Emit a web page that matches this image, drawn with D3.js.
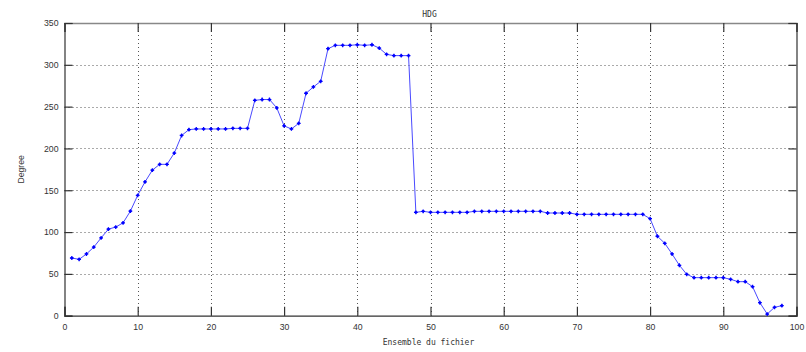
<!DOCTYPE html>
<html>
<head>
<meta charset="utf-8">
<script src="https://cdn.jsdelivr.net/npm/d3@7/dist/d3.min.js"></script>
<style>
  html, body { margin: 0; padding: 0; background: #fff; }
  svg { display: block; }
</style>
</head>
<body>
<svg id="chart" width="806" height="352"></svg>
<script>
// ---- data ----
const chartTitle = "HDG";
const xLabel = "Ensemble du fichier";
const yLabel = "Degree";
const xTicks = [0, 10, 20, 30, 40, 50, 60, 70, 80, 90, 100];
const yTicks = [0, 50, 100, 150, 200, 250, 300, 350];
const fileIndex = [
  1, 2, 3, 4, 5, 6, 7, 8, 9, 10, 11, 12, 13, 14, 15, 16, 17, 18, 19, 20,
  21, 22, 23, 24, 25, 26, 27, 28, 29, 30, 31, 32, 33, 34, 35, 36, 37, 38, 39, 40,
  41, 42, 43, 44, 45, 46, 47, 48, 49, 50, 51, 52, 53, 54, 55, 56, 57, 58, 59, 60,
  61, 62, 63, 64, 65, 66, 67, 68, 69, 70, 71, 72, 73, 74, 75, 76, 77, 78, 79, 80,
  81, 82, 83, 84, 85, 86, 87, 88, 89, 90, 91, 92, 93, 94, 95, 96, 97, 98
];
const hdg = [
  69, 67.4, 73.8, 82, 93, 103.5, 106, 111, 125, 144,
  160, 174, 181, 181, 194.5, 215.5, 222.5, 223.3, 223.3, 223.3,
  223.3, 223.3, 224, 224, 224, 257.5, 258.5, 258.5, 248.5, 227,
  223.3, 230, 266, 273.5, 280.3, 319.3, 323.3, 323.3, 323.3, 324,
  323.3, 324, 320, 312.5, 311, 311, 311, 123.6, 124.8, 123.6,
  123.6, 123.6, 123.6, 123.6, 123.6, 124.8, 124.8, 124.8, 124.8, 124.8,
  124.8, 124.8, 124.8, 124.8, 124.8, 122.8, 122.8, 122.8, 122.8, 121.2,
  121.2, 121.2, 121.2, 121.2, 121.2, 121.2, 121.2, 121.2, 121.2, 116,
  95, 86.6, 73.8, 60.3, 49.5, 45.5, 45.5, 45.5, 45.5, 45.5,
  43.5, 40.7, 40.7, 34.7, 15.5, 2, 10, 12
];

// ---- layout ----
const L = 64.5, R = 796.5, T = 23, B = 315.7;
const svg = d3.select("#chart");
const x = d3.scaleLinear().domain([0, 100]).range([L, R]);
const y = d3.scaleLinear().domain([0, 350]).range([B, T]);

const sans = "'Liberation Sans', Arial, sans-serif";
const mono = "'DejaVu Sans Mono', monospace";

// grid
const grid = svg.append("g");
grid.selectAll("line.gx").data(xTicks.filter(d => d > 0 && d < 100)).enter().append("line")
  .attr("x1", d => Math.round(x(d)) + 0.5).attr("x2", d => Math.round(x(d)) + 0.5)
  .attr("y1", T).attr("y2", B)
  .attr("stroke", "#555").attr("stroke-width", 1).attr("stroke-dasharray", "1,3");
grid.selectAll("line.gy").data(yTicks.filter(d => d > 0 && d < 350)).enter().append("line")
  .attr("y1", d => Math.round(y(d)) + 0.5).attr("y2", d => Math.round(y(d)) + 0.5)
  .attr("x1", L).attr("x2", R)
  .attr("stroke", "#555").attr("stroke-width", 1).attr("stroke-dasharray", "1,3");

// axes (ticks inward)
const xb = d3.axisBottom(x).tickValues(xTicks).tickSize(-9).tickPadding(8).tickFormat(d3.format("d"));
const gxb = svg.append("g").attr("transform", `translate(0,${B})`).call(xb);
const xt = d3.axisTop(x).tickValues(xTicks).tickSize(-9).tickFormat("");
const gxt = svg.append("g").attr("transform", `translate(0,${T})`).call(xt);
const yl = d3.axisLeft(y).tickValues(yTicks).tickSize(-8).tickPadding(6).tickFormat(d3.format("d"));
const gyl = svg.append("g").attr("transform", `translate(${L},0)`).call(yl);
const yr = d3.axisRight(y).tickValues(yTicks).tickSize(-8).tickFormat("");
const gyr = svg.append("g").attr("transform", `translate(${R},0)`).call(yr);
[gxb, gxt, gyl, gyr].forEach(g => {
  g.selectAll("path.domain").attr("stroke", "#333").attr("stroke-width", 1.2);
  g.selectAll(".tick line").attr("stroke", "#333").attr("stroke-width", 1.2);
  g.selectAll(".tick text").attr("font-family", sans).attr("font-size", 8.7).attr("fill", "#333");
});
gxt.select("path.domain").attr("stroke", "#888").attr("stroke-width", 1.5);

// line
const pts = fileIndex.map((f, i) => [f, hdg[i]]);
svg.append("path")
  .datum(pts)
  .attr("fill", "none")
  .attr("stroke", "#4a4aff")
  .attr("stroke-width", 1)
  .attr("d", d3.line().x(d => x(d[0])).y(d => y(d[1])));

// markers
const mk = svg.append("g");
mk.selectAll("circle").data(pts).enter().append("circle")
  .attr("cx", d => x(d[0])).attr("cy", d => y(d[1])).attr("r", 1.3).attr("fill", "#0000ff");
mk.selectAll("path.cross").data(pts).enter().append("path")
  .attr("class", "cross")
  .attr("transform", d => `translate(${x(d[0])},${y(d[1])})`)
  .attr("d", d3.symbol(d3.symbolCross).size(8))
  .attr("fill", "#0000ff");

// texts
svg.append("text").attr("x", (L + R) / 2 - 1).attr("y", 17).attr("text-anchor", "middle")
  .attr("font-family", mono).attr("font-size", 8).attr("fill", "#333").text(chartTitle);
svg.append("text").attr("x", (L + R) / 2 - 2).attr("y", 345).attr("text-anchor", "middle")
  .attr("font-family", mono).attr("font-size", 8).attr("fill", "#333").text(xLabel);
svg.append("text").attr("transform", `translate(24,${(T + B) / 2}) rotate(-90)`).attr("text-anchor", "middle")
  .attr("font-family", sans).attr("font-size", 8.7).attr("fill", "#333").text(yLabel);
</script>
</body>
</html>
